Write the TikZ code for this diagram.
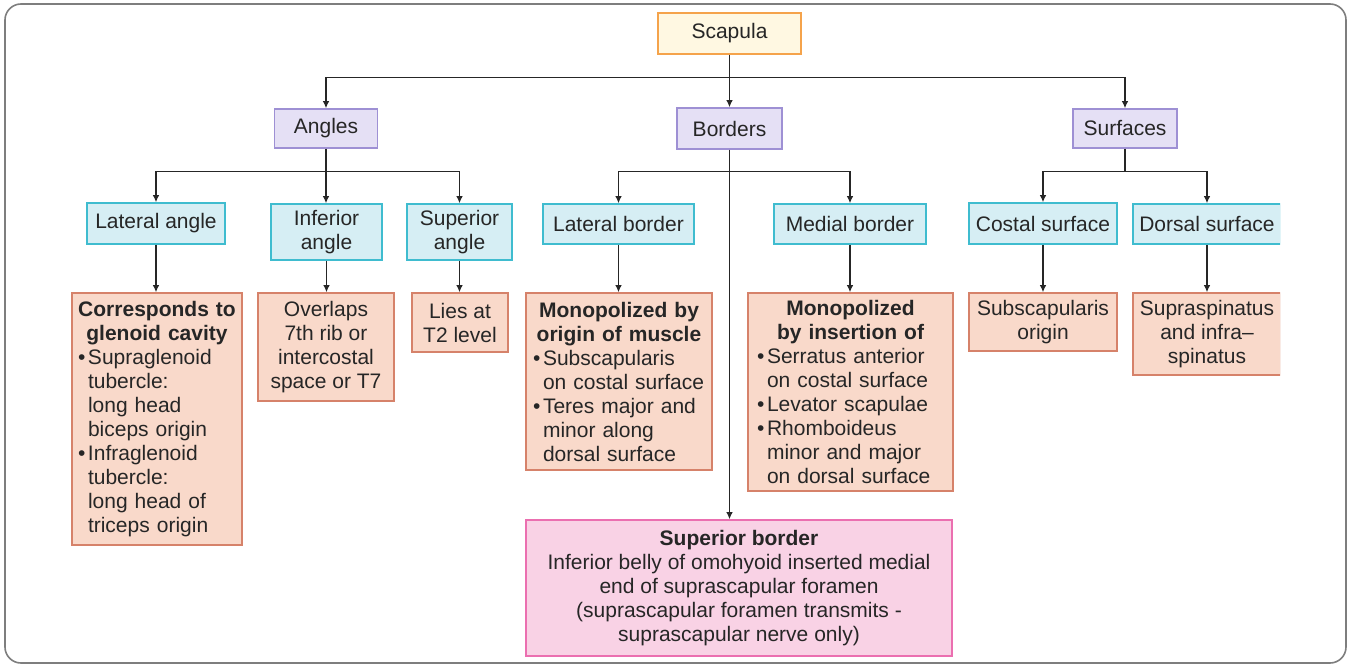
\documentclass[tikz,border=0pt]{standalone}
\usepackage{fontspec}
\setmainfont{Liberation Sans}
\usetikzlibrary{arrows.meta,calc}

\definecolor{ink}{HTML}{262626}
\definecolor{framec}{HTML}{7E7E7E}
\definecolor{scapd}{HTML}{F5A34B}
\definecolor{scapf}{HTML}{FFF8E2}
\definecolor{lavd}{HTML}{9E90D4}
\definecolor{lavf}{HTML}{E5E0F5}
\definecolor{cyand}{HTML}{3FBCCF}
\definecolor{cyanf}{HTML}{D6EEF4}
\definecolor{salmd}{HTML}{D6826A}
\definecolor{salmf}{HTML}{F9D9CA}
\definecolor{pinkd}{HTML}{EB6FB0}
\definecolor{pinkf}{HTML}{F9D2E5}

% bold centred heading line, bullet and hanging indent for list boxes
\newcommand{\hd}[1]{\makebox[\hsize][c]{\bfseries #1}}
\newcommand{\bul}{\makebox[10pt][l]{\textbullet}}
\newcommand{\ind}{\hspace*{10pt}}

\begin{document}
\begin{tikzpicture}[x=1pt,y=-1pt,
  every node/.style={font=\fontsize{21}{24}\selectfont, text=ink},
  box/.style={draw, line width=1.6pt, inner sep=0pt, anchor=center, align=center},
  root/.style={box, draw=scapd, fill=scapf},
  grp/.style={box, draw=lavd, fill=lavf},
  part/.style={box, draw=cyand, fill=cyanf},
  fact/.style={box, draw=salmd, fill=salmf},
  note/.style={box, draw=pinkd, fill=pinkf},
  listbox/.style={fact, align=left, inner xsep=#1},
  link/.style={draw=ink, line width=1.2pt},
  arr/.style={link, -{Latex[length=7pt,width=6.5pt]}}
]
\useasboundingbox (0,0) rectangle (1349,664);

% outer frame
\draw[framec, line width=1.6pt, rounded corners=16pt] (5,4) rectangle (1346,663);

% root and first level
\node[root, minimum width=143pt, minimum height=41pt] (scap) at (729.5,33.5) {Scapula};
\node[grp, minimum width=103pt, minimum height=39pt] (ang) at (326,128.5) {Angles};
\node[grp, minimum width=105pt, minimum height=41pt] (bord) at (729.5,128.5) {Borders};
\node[grp, minimum width=104pt, minimum height=39pt] (surf) at (1125,128.5) {Surfaces};

% second level
\node[part, minimum width=138pt, minimum height=41pt] (latang) at (156,223.5) {Lateral angle};
\node[part, minimum width=111pt, minimum height=56pt] (infang) at (326.5,232) {Inferior\\angle};
\node[part, minimum width=105pt, minimum height=56pt] (supang) at (459.5,232) {Superior\\angle};
\node[part, minimum width=151pt, minimum height=40pt] (latb) at (618.5,224) {Lateral border};
\node[part, minimum width=152pt, minimum height=40pt] (medb) at (850,224) {Medial border};
\node[part, minimum width=148pt, minimum height=41pt] (cost) at (1043,223.5) {Costal surface};

% third level
\node[listbox=6pt, text width=158pt, minimum height=252pt] (corr) at (157,419)
  {\hd{Corresponds to}\\
   \hd{glenoid cavity}\\
   \bul Supraglenoid\\
   \ind tubercle:\\
   \ind long head\\
   \ind biceps origin\\
   \bul Infraglenoid\\
   \ind tubercle:\\
   \ind long head of\\
   \ind triceps origin};
\node[fact, minimum width=136pt, minimum height=108pt] (over) at (326,347)
  {Overlaps\\7th rib or\\intercostal\\space or T7};
\node[fact, minimum width=96pt, minimum height=59pt] (lies) at (460,322.5) {Lies at\\T2 level};
\node[listbox=7pt, text width=172pt, minimum height=177pt] (morig) at (619,381.5)
  {\hd{Monopolized by}\\
   \hd{origin of muscle}\\
   \bul Subscapularis\\
   \ind on costal surface\\
   \bul Teres major and\\
   \ind minor along\\
   \ind dorsal surface};
\node[listbox=9pt, text width=187pt, minimum height=198pt] (mins) at (850.5,392)
  {\hd{Monopolized}\\
   \hd{by insertion of}\\
   \bul Serratus anterior\\
   \ind on costal surface\\
   \bul Levator scapulae\\
   \bul Rhomboideus\\
   \ind minor and major\\
   \ind on dorsal surface};
\node[fact, minimum width=148pt, minimum height=58pt] (subs) at (1043,322) {Subscapularis\\origin};

% right-hand column, cut at the edge of the panel
\begin{scope}
  \clip (1100,0) rectangle (1280,664);
  \node[part, minimum width=148pt, minimum height=40pt] (dors) at (1207,224) {Dorsal surface};
  \node[fact, minimum width=148pt, minimum height=82pt] (supra) at (1207,334)
    {Supraspinatus\\and infra–\\spinatus};
\end{scope}

% superior border note
\node[note, minimum width=426pt, minimum height=136pt] (supb) at (739,588)
  {\textbf{Superior border}\\
   Inferior belly of omohyoid inserted medial\\
   end of suprascapular foramen\\
   (suprascapular foramen transmits -\\
   suprascapular nerve only)};

% connectors: root to groups
\draw[arr] (scap.south) -- ++(0,23) -| (ang.north);
\draw[arr] (scap.south) -- ++(0,23) -| (surf.north);
\draw[arr] (scap.south) -- (bord.north);

% angles
\draw[arr] (ang.south) -- ++(0,23) -| (latang.north);
\draw[arr] (ang.south) -- ++(0,23) -| (supang.north);
\draw[arr] (ang.south) -- (ang.south |- infang.north);

% borders
\draw[arr] (bord.south) -- ++(0,22) -| (latb.north);
\draw[arr] (bord.south) -- ++(0,22) -| (medb.north);
\draw[arr] (bord.south) -- (bord.south |- supb.north);

% surfaces
\draw[arr] (surf.south) -- ++(0,23) -| (cost.north);
\draw[arr] (surf.south) -- ++(0,23) -| (dors.north);

% second to third level
\draw[arr] (latang.south) -- (latang.south |- corr.north);
\draw[arr] (infang.south) -- (infang.south |- over.north);
\draw[arr] (supang.south) -- (supang.south |- lies.north);
\draw[arr] (latb.south) -- (latb.south |- morig.north);
\draw[arr] (medb.south) -- (medb.south |- mins.north);
\draw[arr] (cost.south) -- (cost.south |- subs.north);
\draw[arr] (dors.south) -- (dors.south |- supra.north);

\end{tikzpicture}
\end{document}
